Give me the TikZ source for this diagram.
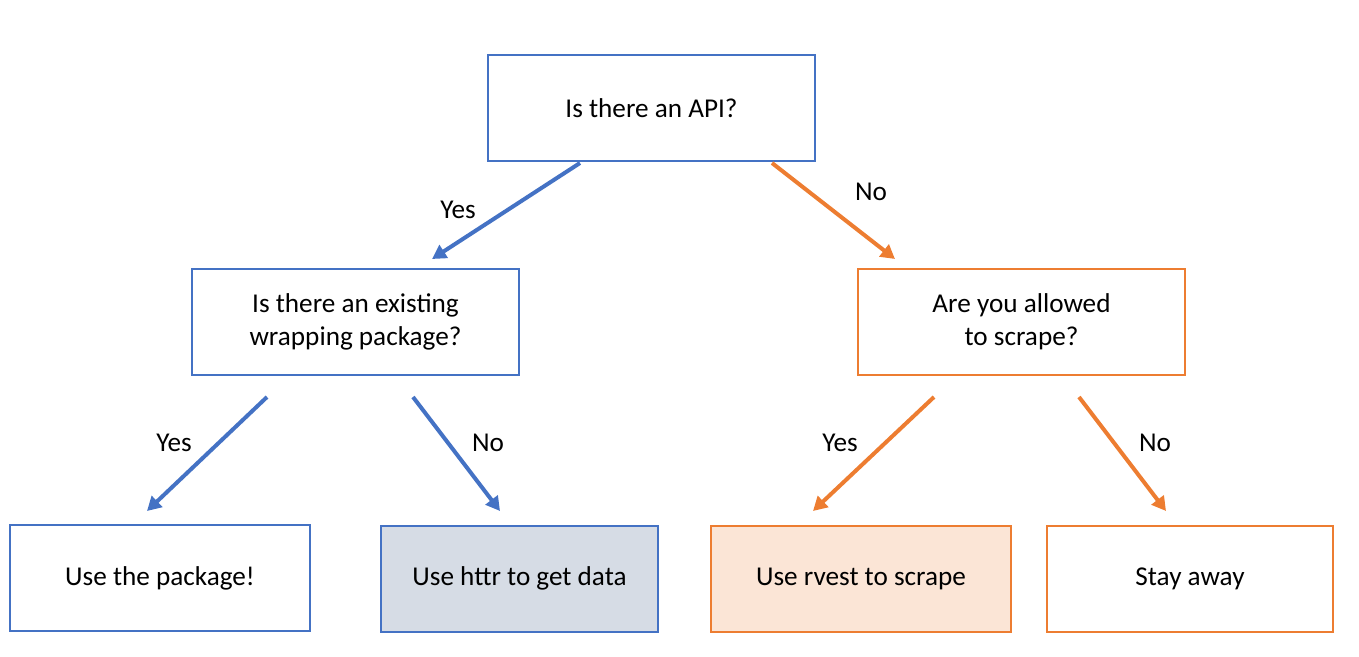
\documentclass[tikz,border=0pt]{standalone}
\usepackage{fontspec}
\setmainfont{Carlito}
\usetikzlibrary{arrows.meta}
\definecolor{apiblue}{HTML}{4472C4}
\definecolor{scrapeorange}{HTML}{ED7D31}
\definecolor{httrfill}{HTML}{D6DCE5}
\definecolor{rvestfill}{HTML}{FBE5D6}

\begin{document}
\begin{tikzpicture}
[x=0.5pt,y=-0.5pt,
	question/.style={draw,line width=1pt,minimum width=163.5pt,minimum height=53pt,align=center,font=\fontsize{13.6}{16.5}\selectfont},
	answer/.style={draw,line width=1pt,minimum height=53pt,font=\fontsize{13.6}{16}\selectfont},
	choice/.style={font=\fontsize{13.6}{16}\selectfont},
	flow/.style={line width=2pt,-{Triangle[length=7pt,width=7.5pt]}}]
\useasboundingbox (0,0) rectangle (1359,657);

\node[question,draw=apiblue] (api) at (651.5,108.5) {Is there an API?};
\node[question,draw=apiblue] (wrap) at (355.5,322) {Is there an existing\\wrapping package?};
\node[question,draw=scrapeorange] (allowed) at (1021.5,322) {Are you allowed\\to scrape?};

\node[answer,draw=apiblue,minimum width=150pt] (pkg) at (160,578) {Use the package!};
\node[answer,draw=apiblue,fill=httrfill,minimum width=138.5pt] (httr) at (519.5,578.5) {Use httr to get data};
\node[answer,draw=scrapeorange,fill=rvestfill,minimum width=150pt] (rvest) at (861,578.5) {Use rvest to scrape};
\node[answer,draw=scrapeorange,minimum width=143pt] (away) at (1190,578.5) {Stay away};

\coordinate (apiyes) at (580,163);
\coordinate (apino) at (772,163);
\coordinate (wrapyes) at (267,397);
\coordinate (wrapno) at (413,397);
\coordinate (allowedyes) at (934,397);
\coordinate (allowedno) at (1079,397);
\coordinate (wraptop) at (432,259);
\coordinate (allowedtop) at (895,259);
\coordinate (pkgtop) at (147,511);
\coordinate (httrtop) at (500,511);
\coordinate (rvesttop) at (813,511);
\coordinate (awaytop) at (1166,511);

\draw[flow,apiblue] (apiyes) -- (wraptop);
\draw[flow,scrapeorange] (apino) -- (allowedtop);
\draw[flow,apiblue] (wrapyes) -- (pkgtop);
\draw[flow,apiblue] (wrapno) -- (httrtop);
\draw[flow,scrapeorange] (allowedyes) -- (rvesttop);
\draw[flow,scrapeorange] (allowedno) -- (awaytop);

\node[choice] (apiyeslabel) at (458,210) {Yes};
\node[choice] (apinolabel) at (871,192) {No};
\node[choice] (wrapyeslabel) at (174,443) {Yes};
\node[choice] (wrapnolabel) at (488,443) {No};
\node[choice] (allowedyeslabel) at (840,443) {Yes};
\node[choice] (allowednolabel) at (1155,443) {No};
\end{tikzpicture}
\end{document}
